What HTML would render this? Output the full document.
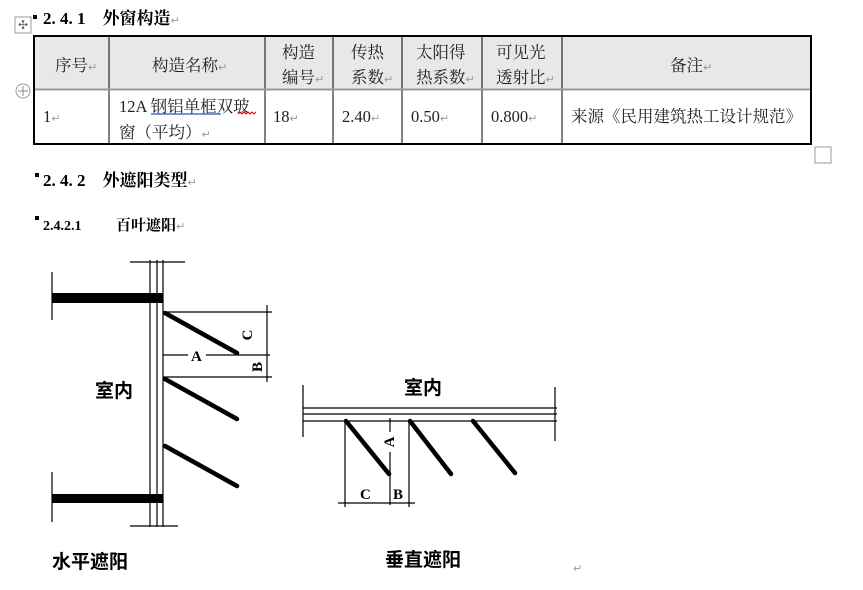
<!DOCTYPE html>
<html><head><meta charset="utf-8"><style>
html,body{margin:0;padding:0;background:#fff;}
svg{display:block;}
.h{font-family:"Liberation Serif","Noto Serif CJK SC",serif;font-weight:bold;}
.t{font-family:"Liberation Serif","Noto Serif CJK SC",serif;font-size:16.5px;fill:#222;}
.s{font-family:"Liberation Sans","Noto Sans CJK SC",sans-serif;font-weight:bold;}
.r{fill:#999;font-size:11px;font-family:"DejaVu Sans",sans-serif;font-weight:normal;}
</style></head><body>
<svg width="863" height="590" viewBox="0 0 863 590" xmlns="http://www.w3.org/2000/svg">
<rect x="15" y="17" width="16" height="16" fill="#fff" stroke="#999"/>
<text x="23" y="29" font-size="12" text-anchor="middle" fill="#666" font-family="DejaVu Sans">✣</text>
<rect x="33" y="15" width="4" height="4" fill="#000"/>
<text class="h" x="43" y="24" font-size="17">2. 4. 1　外窗构造<tspan class="r">↵</tspan></text>
<rect x="34" y="36" width="777" height="53" fill="#e8e8e8"/>
<g stroke="#000" stroke-width="1">
<line x1="109" y1="36" x2="109" y2="144"/><line x1="265" y1="36" x2="265" y2="144"/>
<line x1="333" y1="36" x2="333" y2="144"/><line x1="402" y1="36" x2="402" y2="144"/>
<line x1="482" y1="36" x2="482" y2="144"/><line x1="562" y1="36" x2="562" y2="144"/>
</g>
<line x1="34" y1="89.5" x2="811" y2="89.5" stroke="#999" stroke-width="2"/>
<rect x="34" y="36" width="777" height="108" fill="none" stroke="#000" stroke-width="2"/>
<circle cx="23" cy="91" r="7" fill="#fff" stroke="#999"/>
<line x1="18" y1="91" x2="28" y2="91" stroke="#888"/><line x1="23" y1="86" x2="23" y2="96" stroke="#888"/>
<g class="t">
<text x="55" y="71">序号<tspan class="r">↵</tspan></text>
<text x="152" y="71">构造名称<tspan class="r">↵</tspan></text>
<text x="282" y="58">构造</text><text x="282" y="83">编号<tspan class="r">↵</tspan></text>
<text x="351" y="58">传热</text><text x="351" y="83">系数<tspan class="r">↵</tspan></text>
<text x="416" y="58">太阳得</text><text x="416" y="83">热系数<tspan class="r">↵</tspan></text>
<text x="496" y="58">可见光</text><text x="496" y="83">透射比<tspan class="r">↵</tspan></text>
<text x="670" y="71">备注<tspan class="r">↵</tspan></text>
<text x="43" y="122">1<tspan class="r">↵</tspan></text>
<text x="119" y="112">12A 钢铝单框双玻</text>
<text x="119" y="138">窗（平均）<tspan class="r">↵</tspan></text>
<text x="273" y="122">18<tspan class="r">↵</tspan></text>
<text x="342" y="122">2.40<tspan class="r">↵</tspan></text>
<text x="411" y="122">0.50<tspan class="r">↵</tspan></text>
<text x="491" y="122">0.800<tspan class="r">↵</tspan></text>
<text x="571" y="122">来源《民用建筑热工设计规范》</text>
</g>
<line x1="151" y1="114" x2="221" y2="114" stroke="#2255cc" stroke-width="1.2"/>
<path d="M238 114 l2 -2 l2 2 l2 -2 l2 2 l2 -2 l2 2 l2 -2 l2 2 l2 -2" stroke="#d00" fill="none"/>
<rect x="815" y="147" width="16" height="16" fill="#fff" stroke="#999"/>
<rect x="35" y="173" width="4" height="4" fill="#000"/>
<text class="h" x="43" y="186" font-size="17">2. 4. 2　外遮阳类型<tspan class="r">↵</tspan></text>
<rect x="35" y="216" width="4" height="4" fill="#000"/>
<text class="h" x="43" y="230" font-size="14">2.4.2.1</text>
<text class="h" x="116" y="230" font-size="15">百叶遮阳<tspan class="r">↵</tspan></text>

<g stroke="#000" stroke-width="1.2" fill="none">
<line x1="150" y1="260" x2="150" y2="527"/><line x1="157" y1="260" x2="157" y2="527"/><line x1="163" y1="260" x2="163" y2="527"/>
<line x1="130" y1="262" x2="185" y2="262"/><line x1="130" y1="526" x2="178" y2="526"/>
<line x1="52" y1="272" x2="52" y2="320"/><line x1="52" y1="472" x2="52" y2="522"/>
<line x1="163" y1="312" x2="272" y2="312"/><line x1="163" y1="377" x2="272" y2="377"/>
<line x1="163" y1="355" x2="188" y2="355"/><line x1="206" y1="355" x2="270" y2="355"/>
<line x1="267" y1="305" x2="267" y2="382"/>
</g>
<rect x="52" y="293" width="111" height="10" fill="#000"/>
<rect x="52" y="494" width="111" height="9" fill="#000"/>
<g stroke="#000" stroke-width="4.5" stroke-linecap="round">
<line x1="165" y1="313" x2="237" y2="353"/><line x1="165" y1="379" x2="237" y2="419"/><line x1="165" y1="446" x2="237" y2="486"/>
</g>
<text class="h" x="191" y="361" font-size="15">A</text>
<text class="h" font-size="15" transform="translate(252,335) rotate(-90)" text-anchor="middle">C</text>
<text class="h" font-size="15" transform="translate(262,367) rotate(-90)" text-anchor="middle">B</text>
<text class="s" x="95" y="397" font-size="19">室内</text>
<text class="s" x="52" y="568" font-size="19">水平遮阳</text>

<g stroke="#000" stroke-width="1.2" fill="none">
<line x1="303" y1="408" x2="557" y2="408"/><line x1="303" y1="414" x2="557" y2="414"/><line x1="303" y1="421" x2="557" y2="421"/>
<line x1="303" y1="385" x2="303" y2="437"/><line x1="555" y1="387" x2="555" y2="441"/>
<line x1="345" y1="421" x2="345" y2="507"/><line x1="409" y1="421" x2="409" y2="507"/>
<line x1="390" y1="418" x2="390" y2="432"/><line x1="390" y1="452" x2="390" y2="505"/>
<line x1="338" y1="503" x2="415" y2="503"/>
</g>
<g stroke="#000" stroke-width="4.5" stroke-linecap="round">
<line x1="346" y1="421" x2="389" y2="474"/><line x1="410" y1="421" x2="451" y2="474"/><line x1="473" y1="421" x2="515" y2="473"/>
</g>
<text class="h" font-size="15" transform="translate(394,442) rotate(-90)" text-anchor="middle">A</text>
<text class="h" x="360" y="499" font-size="15">C</text>
<text class="h" x="393" y="499" font-size="15">B</text>
<text class="s" x="404" y="394" font-size="19">室内</text>
<text class="s" x="385" y="566" font-size="19">垂直遮阳</text>
<text x="573" y="572" class="r" font-size="13">↵</text>
</svg>
</body></html>
